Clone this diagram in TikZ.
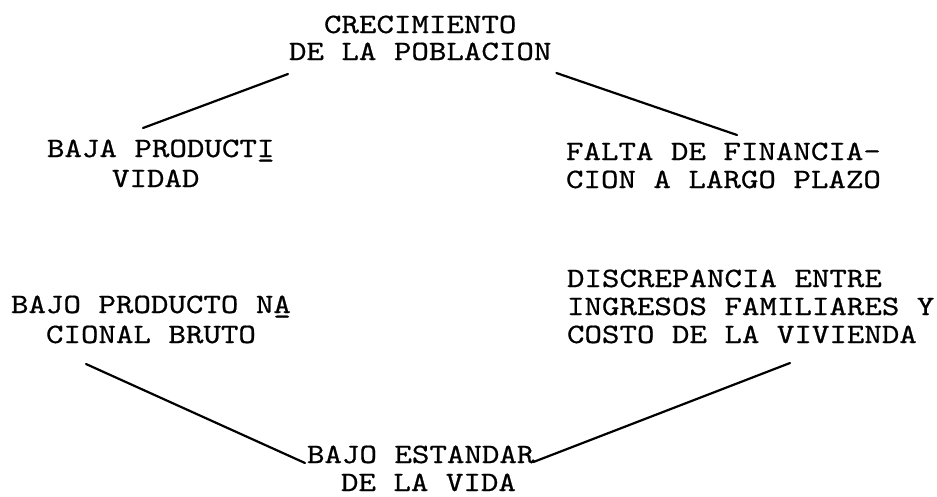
\documentclass[tikz,border=0pt]{standalone}
\usepackage{fontspec}
\newfontfamily\typewriter[FakeBold=0.6]{lmmono10-regular.otf}
\begin{document}
\begin{tikzpicture}[x=1pt,y=-1pt,
  txt/.style={anchor=base west,inner sep=0pt,outer sep=0pt,xscale=1.19,transform shape,font=\typewriter\fontsize{28}{28}\selectfont},
  link/.style={line width=2.2pt,line cap=round}]
\path[use as bounding box,fill=white] (0,0) rectangle (937,496);
% top
\node[txt] (cre) at (324,33) {CRECIMIENTO};
\node[txt] (pob) at (289,60) {DE LA POBLACION};
% left upper
\node[txt] (baj1) at (47,157) {BAJA PRODUCT\rlap{I}\_};
\node[txt] (baj2) at (112,187) {VIDAD};
% right upper
\node[txt] (fal1) at (566,160) {FALTA DE FINANCIA-};
\node[txt] (fal2) at (566,188) {CION A LARGO PLAZO};
% right lower
\node[txt] (dis1) at (567,287) {DISCREPANCIA ENTRE};
\node[txt] (dis2) at (567,315) {INGRESOS FAMILIARES Y};
\node[txt] (dis3) at (567,343) {COSTO DE LA VIVIENDA};
% left lower
\node[txt] (pnb1) at (11,313) {BAJO PRODUCTO N\rlap{A}\_};
\node[txt] (pnb2) at (46,343) {CIONAL BRUTO};
% bottom
\node[txt] (est1) at (307,463) {BAJO ESTANDAR};
\node[txt] (est2) at (341,491) {DE LA VIDA};
% connectors
\draw[link] ([shift={(-1,14)}]pob.base west) -- ([shift={(96,-29)}]baj1.base west);
\draw[link] ([shift={(5,13)}]pob.base east) -- ([shift={(171,-25)}]fal1.base west);
\draw[link] ([shift={(40,21)}]pnb2.base west) -- ([shift={(-2,0)}]est1.base west);
\draw[link] ([shift={(-1,-1)}]est1.base east) -- ([shift={(223,20)}]dis3.base west);
\end{tikzpicture}
\end{document}
